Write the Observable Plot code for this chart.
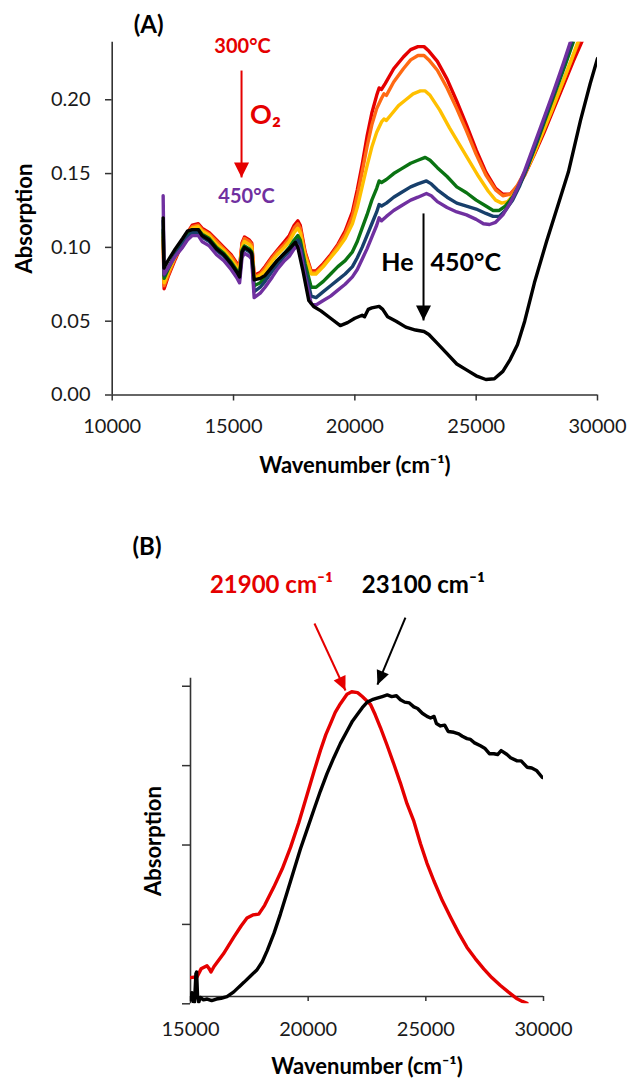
<!DOCTYPE html>
<html><head><meta charset="utf-8">
<script src="https://cdn.jsdelivr.net/npm/d3@7"></script>
<script src="https://cdn.jsdelivr.net/npm/@observablehq/plot@0.6"></script>
<style>
body{margin:0;background:#fff;}
#wrap{position:relative;width:629px;height:1078px;overflow:hidden;background:#fff;}
#wrap > svg{position:absolute;left:0;overflow:visible;}
</style></head><body><div id="wrap"></div>
<script>
// ---------- Panel A data: absorption vs wavenumber (cm-1) ----------
const xTicksA = [10000, 15000, 20000, 25000, 30000];
const yTicksA = [0, 0.05, 0.10, 0.15, 0.20];

const o2_300 = [[12100,0.105],[12140,0.072],[12300,0.080],[12600,0.092],[12900,0.103],[13100,0.110],[13300,0.115],[13550,0.116],[13700,0.113],[14000,0.110],[14300,0.105],[14600,0.100],[14900,0.095],[15150,0.089],[15250,0.087],[15350,0.103],[15450,0.107],[15650,0.105],[15750,0.103],[15850,0.081],[16100,0.083],[16300,0.087],[16600,0.094],[16800,0.098],[17100,0.104],[17300,0.108],[17500,0.115],[17650,0.118],[17750,0.115],[17950,0.097],[18200,0.084],[18400,0.084],[18700,0.089],[19000,0.095],[19300,0.102],[19600,0.111],[19900,0.124],[20100,0.139],[20300,0.156],[20500,0.175],[20700,0.191],[20900,0.203],[21000,0.208],[21100,0.207],[21250,0.211],[21600,0.221],[22000,0.229],[22300,0.234],[22600,0.236],[22850,0.236],[23050,0.233],[23400,0.226],[23800,0.214],[24200,0.199],[24600,0.183],[25000,0.166],[25400,0.151],[25800,0.140],[26100,0.136],[26400,0.136],[26700,0.141],[27000,0.149],[27400,0.163],[27800,0.178],[28200,0.194],[28600,0.210],[29000,0.226],[29400,0.241],[29700,0.252]];
const o2_330 = [[12100,0.107],[12140,0.074],[12300,0.081],[12600,0.093],[12900,0.103],[13100,0.110],[13300,0.114],[13550,0.115],[13700,0.112],[14000,0.109],[14300,0.104],[14600,0.099],[14900,0.094],[15150,0.088],[15250,0.086],[15350,0.102],[15450,0.106],[15650,0.104],[15750,0.102],[15850,0.080],[16100,0.082],[16300,0.086],[16600,0.093],[16800,0.097],[17100,0.102],[17300,0.106],[17500,0.113],[17650,0.116],[17750,0.113],[17950,0.096],[18200,0.083],[18400,0.083],[18700,0.088],[19000,0.094],[19300,0.101],[19600,0.109],[19900,0.121],[20100,0.135],[20300,0.151],[20500,0.168],[20700,0.183],[20900,0.194],[21100,0.201],[21200,0.204],[21300,0.203],[21600,0.212],[22000,0.221],[22300,0.227],[22600,0.230],[22850,0.230],[23050,0.227],[23400,0.220],[23800,0.208],[24200,0.194],[24600,0.179],[25000,0.163],[25400,0.149],[25800,0.139],[26100,0.135],[26400,0.136],[26700,0.142],[27000,0.151],[27400,0.165],[27800,0.181],[28200,0.197],[28600,0.213],[29000,0.230],[29300,0.242],[29600,0.254]];
const o2_360 = [[12100,0.110],[12140,0.076],[12300,0.083],[12600,0.094],[12900,0.103],[13100,0.109],[13300,0.113],[13550,0.114],[13700,0.111],[14000,0.108],[14300,0.102],[14600,0.098],[14900,0.092],[15150,0.086],[15250,0.084],[15350,0.100],[15450,0.104],[15650,0.102],[15750,0.100],[15850,0.079],[16100,0.081],[16300,0.084],[16600,0.091],[16800,0.095],[17100,0.100],[17300,0.104],[17500,0.110],[17650,0.113],[17750,0.110],[17950,0.094],[18200,0.082],[18400,0.082],[18700,0.087],[19000,0.093],[19300,0.099],[19600,0.106],[19900,0.116],[20100,0.127],[20300,0.141],[20500,0.155],[20700,0.168],[20900,0.178],[21100,0.185],[21200,0.187],[21300,0.186],[21500,0.190],[21800,0.196],[22100,0.200],[22400,0.204],[22700,0.206],[22900,0.206],[23100,0.203],[23500,0.193],[23900,0.181],[24300,0.170],[24700,0.159],[25100,0.148],[25500,0.138],[25800,0.132],[26050,0.130],[26300,0.131],[26600,0.137],[26900,0.146],[27300,0.160],[27700,0.176],[28100,0.192],[28500,0.209],[28900,0.226],[29300,0.244],[29500,0.253]];
const o2_390 = [[12100,0.112],[12140,0.079],[12300,0.085],[12600,0.095],[12900,0.103],[13100,0.109],[13300,0.112],[13550,0.112],[13700,0.109],[14000,0.106],[14300,0.100],[14600,0.096],[14900,0.090],[15150,0.084],[15250,0.081],[15350,0.098],[15450,0.101],[15650,0.099],[15750,0.097],[15850,0.074],[16100,0.076],[16300,0.080],[16600,0.087],[16800,0.091],[17100,0.096],[17300,0.100],[17500,0.105],[17650,0.108],[17750,0.105],[17950,0.089],[18200,0.073],[18400,0.073],[18700,0.077],[19000,0.082],[19300,0.087],[19600,0.091],[19900,0.097],[20100,0.104],[20300,0.113],[20500,0.122],[20700,0.132],[20900,0.140],[21000,0.145],[21100,0.144],[21300,0.146],[21600,0.150],[21900,0.153],[22300,0.157],[22600,0.159],[22900,0.161],[23100,0.159],[23400,0.154],[23800,0.148],[24200,0.141],[24600,0.137],[25000,0.132],[25400,0.128],[25700,0.125],[25950,0.125],[26200,0.128],[26500,0.134],[26800,0.143],[27100,0.154],[27500,0.171],[27900,0.189],[28300,0.207],[28700,0.225],[29000,0.239],[29200,0.248]];
const o2_420 = [[12100,0.118],[12140,0.081],[12300,0.086],[12600,0.095],[12900,0.102],[13100,0.107],[13300,0.110],[13550,0.110],[13700,0.107],[14000,0.104],[14300,0.098],[14600,0.094],[14900,0.088],[15150,0.082],[15250,0.079],[15350,0.096],[15450,0.099],[15650,0.097],[15750,0.095],[15850,0.070],[16100,0.073],[16300,0.077],[16600,0.084],[16800,0.088],[17100,0.094],[17300,0.097],[17500,0.102],[17650,0.105],[17750,0.102],[17950,0.085],[18200,0.067],[18400,0.066],[18700,0.070],[19000,0.074],[19300,0.078],[19600,0.082],[19900,0.087],[20100,0.093],[20300,0.100],[20500,0.108],[20700,0.116],[20900,0.124],[21000,0.129],[21100,0.128],[21300,0.130],[21600,0.134],[21900,0.137],[22300,0.141],[22600,0.143],[22950,0.145],[23150,0.143],[23400,0.139],[23800,0.134],[24200,0.130],[24600,0.128],[25000,0.126],[25400,0.123],[25700,0.121],[25950,0.121],[26200,0.125],[26500,0.132],[26800,0.142],[27100,0.154],[27500,0.172],[27900,0.191],[28300,0.209],[28700,0.228],[29000,0.242],[29200,0.251]];
const o2_450 = [[12100,0.135],[12140,0.082],[12300,0.086],[12600,0.094],[12900,0.100],[13100,0.105],[13300,0.108],[13550,0.108],[13700,0.104],[14000,0.101],[14300,0.095],[14600,0.091],[14900,0.085],[15150,0.079],[15250,0.076],[15350,0.093],[15450,0.096],[15650,0.094],[15750,0.092],[15850,0.066],[16100,0.069],[16300,0.073],[16600,0.080],[16800,0.085],[17100,0.091],[17300,0.094],[17500,0.099],[17650,0.101],[17750,0.098],[17950,0.080],[18200,0.062],[18400,0.061],[18700,0.064],[19000,0.067],[19300,0.071],[19600,0.075],[19900,0.080],[20100,0.085],[20300,0.092],[20500,0.099],[20700,0.107],[20900,0.115],[21000,0.120],[21100,0.118],[21300,0.121],[21600,0.125],[21900,0.128],[22300,0.132],[22600,0.134],[22950,0.1365],[23150,0.135],[23400,0.131],[23800,0.127],[24200,0.124],[24600,0.122],[25000,0.119],[25300,0.116],[25550,0.1155],[25800,0.117],[26100,0.122],[26400,0.130],[26700,0.140],[27000,0.152],[27400,0.170],[27800,0.188],[28200,0.206],[28600,0.225],[28900,0.240],[29100,0.249]];
const he_450 = [[12100,0.120],[12130,0.086],[12300,0.091],[12600,0.099],[12900,0.106],[13100,0.111],[13300,0.112],[13550,0.112],[13700,0.108],[14000,0.105],[14300,0.099],[14600,0.095],[14900,0.089],[15150,0.083],[15250,0.080],[15350,0.097],[15450,0.100],[15650,0.098],[15750,0.096],[15850,0.078],[16100,0.079],[16300,0.081],[16600,0.087],[16800,0.091],[17100,0.096],[17300,0.099],[17550,0.1035],[17650,0.100],[17850,0.085],[18100,0.064],[18300,0.060],[18600,0.057],[19000,0.052],[19400,0.047],[19700,0.049],[20000,0.052],[20300,0.054],[20400,0.053],[20550,0.058],[20700,0.059],[21000,0.060],[21150,0.058],[21350,0.053],[21700,0.050],[22100,0.046],[22500,0.044],[22850,0.043],[23050,0.041],[23400,0.035],[23800,0.028],[24200,0.021],[24600,0.017],[25000,0.013],[25400,0.0105],[25750,0.011],[26100,0.016],[26400,0.024],[26700,0.034],[27000,0.050],[27400,0.076],[27900,0.104],[28400,0.130],[28800,0.151],[29300,0.186],[29700,0.211],[30000,0.228]];

const seriesA = [
  {data: o2_300, color: "#e50000"},
  {data: o2_330, color: "#ff6a13"},
  {data: o2_360, color: "#ffc000"},
  {data: o2_390, color: "#0a7312"},
  {data: o2_420, color: "#173f6b"},
  {data: o2_450, color: "#7030a0"},
  {data: he_450, color: "#000000"}
];

const labelsA = [
  {text: "(A)", x: 11500, y: 0.2503, color: "#000", size: 24},
  {text: "300°C", x: 15370, y: 0.2361, color: "#e50000", size: 20},
  {text: "O₂", x: 16318, y: 0.1894, color: "#e50000", size: 27},
  {text: "450°C", x: 15535, y: 0.1345, color: "#7030a0", size: 20}
];
const heLabelA = [
  {text: "He", x: 22417, y: 0.0891, anchor: "end"},
  {text: "450°C", x: 23118, y: 0.0891, anchor: "start"}
];
const arrowsA = [
  {x1: 15330, y1: 0.2198, x2: 15330, y2: 0.1474, color: "#e50000"},
  {x1: 22830, y1: 0.1230, x2: 22830, y2: 0.0505, color: "#000"}
];

// ---------- Panel B data: normalised absorption ----------
const xTicksB = [15000, 20000, 25000, 30000];
const yTicksB = [0, 1, 2, 3, 4];
const diffRed = [[15000,0.33],[15280,0.34],[15450,0.44],[15700,0.48],[15800,0.44],[15870,0.40],[16000,0.47],[16400,0.63],[16840,0.84],[17150,0.98],[17400,1.08],[17650,1.12],[17900,1.13],[18150,1.24],[18540,1.47],[18900,1.70],[19250,1.97],[19600,2.28],[19960,2.64],[20250,2.93],[20520,3.19],[20750,3.39],[20950,3.53],[21150,3.67],[21370,3.78],[21650,3.90],[21850,3.93],[22100,3.92],[22300,3.87],[22650,3.77],[22850,3.64],[23070,3.48],[23350,3.26],[23640,3.02],[23920,2.78],[24200,2.52],[24490,2.30],[24770,2.02],[25050,1.77],[25340,1.55],[25700,1.30],[26050,1.09],[26400,0.89],[26750,0.71],[27100,0.57],[27460,0.44],[27800,0.33],[28170,0.23],[28500,0.15],[28880,0.063],[29100,0.03],[29300,0.005]];
const diffBlack = [[15000,0.05],[15060,0.14],[15110,0.03],[15170,0.02],[15230,0.38],[15260,0.40],[15300,0.10],[15350,0.02],[15420,0.08],[15550,0.05],[15710,0.06],[15900,0.04],[16100,0.06],[16300,0.07],[16550,0.09],[16840,0.15],[17050,0.21],[17270,0.27],[17550,0.35],[17830,0.43],[18050,0.53],[18260,0.67],[18550,0.89],[18820,1.13],[19100,1.40],[19390,1.68],[19670,1.95],[19960,2.20],[20250,2.45],[20520,2.68],[20800,2.90],[21090,3.10],[21370,3.28],[21660,3.44],[21880,3.56],[22080,3.64],[22300,3.73],[22510,3.80],[22720,3.83],[22930,3.85],[23150,3.87],[23360,3.89],[23550,3.87],[23750,3.88],[23920,3.83],[24100,3.80],[24300,3.79],[24490,3.74],[24650,3.72],[24850,3.66],[25050,3.62],[25200,3.60],[25350,3.62],[25450,3.53],[25620,3.50],[25800,3.51],[25950,3.43],[26190,3.42],[26400,3.40],[26550,3.37],[26750,3.34],[26900,3.33],[27050,3.29],[27320,3.25],[27500,3.22],[27700,3.15],[27890,3.15],[28050,3.14],[28200,3.19],[28450,3.14],[28600,3.10],[28880,3.06],[29050,3.06],[29300,2.98],[29500,2.97],[29700,2.94],[29950,2.85]];
const xAxisCrossB = 0.092;

const labelsB = [
  {text: "(B)", x: 13152, y: 5.747, color: "#000"},
  {text: "21900 cm⁻¹", x: 18441, y: 5.268, color: "#e50000"},
  {text: "23100 cm⁻¹", x: 24898, y: 5.268, color: "#000"}
];
const arrowsB = [
  {x1: 20268, y1: 4.79, x2: 21585, y2: 3.946, color: "#e50000"},
  {x1: 24133, y1: 4.865, x2: 22944, y2: 4.02, color: "#000"}
];

// ---------- drawing ----------
const FONT = "Lato, 'Open Sans', sans-serif";
const AXIS = "#333";

function head(angleDeg, len, halfW) {
  const a = angleDeg * Math.PI / 180, c = Math.cos(a), s = Math.sin(a);
  return {draw(ctx) {
    ctx.moveTo(0, 0);
    ctx.lineTo(-len * c + halfW * s, -len * s - halfW * c);
    ctx.lineTo(-len * c - halfW * s, -len * s + halfW * c);
    ctx.closePath();
  }};
}

function arrowMarks(arrows, kx, ky, len, halfW) {
  const marks = [];
  for (const a of arrows) {
    const ang = Math.atan2(-(a.y2 - a.y1) * ky, (a.x2 - a.x1) * kx) * 180 / Math.PI;
    marks.push(Plot.link([a], {x1: "x1", y1: "y1", x2: "x2", y2: "y2", stroke: a.color, strokeWidth: 2}));
    marks.push(Plot.dot([a], {x: "x2", y: "y2", symbol: head(ang, len, halfW), fill: a.color, stroke: "none", r: 5}));
  }
  return marks;
}

// Panel A layout
const LA = {w: 629, h: 500, ml: 111.7, mr: 32, mt: 41.7, mb: 105.5};
const domA = {x: [10000, 30000], y: [0, 0.239]};
const kxA = (LA.w - LA.ml - LA.mr) / (domA.x[1] - domA.x[0]);
const kyA = (LA.h - LA.mt - LA.mb) / (domA.y[1] - domA.y[0]);

const plotA = Plot.plot({
  width: LA.w, height: LA.h,
  marginLeft: LA.ml, marginRight: LA.mr, marginTop: LA.mt, marginBottom: LA.mb,
  style: {fontFamily: FONT, background: "transparent", color: "#1a1a1a", overflow: "visible"},
  x: {domain: domA.x},
  y: {domain: domA.y},
  marks: [
    Plot.axisX(xTicksA, {tickSize: 6, tickPadding: 18, tickFormat: d => String(d), fontSize: 20, stroke: AXIS, strokeWidth: 1.5, label: null}),
    Plot.axisY(yTicksA, {tickSize: 6.7, tickPadding: 15, tickFormat: d => d.toFixed(2), fontSize: 20, stroke: AXIS, strokeWidth: 1.5, label: null}),
    Plot.ruleX([domA.x[0]], {stroke: AXIS, strokeWidth: 1.6}),
    Plot.ruleY([0], {stroke: AXIS, strokeWidth: 1.6}),
    ...seriesA.map(s => Plot.line(s.data, {stroke: s.color, strokeWidth: 3.4, strokeLinejoin: "round", clip: true})),
    ...labelsA.map(l => Plot.text([l], {x: "x", y: "y", text: "text", fill: l.color, fontSize: l.size, fontWeight: "bold"})),
    ...heLabelA.map(l => Plot.text([l], {x: "x", y: "y", text: "text", fill: "#000", fontSize: 25, fontWeight: "bold", textAnchor: l.anchor})),
    ...arrowMarks(arrowsA, kxA, kyA, 15, 7.5),
    Plot.text(["Absorption"], {frameAnchor: "left", dx: -87.7, rotate: -90, textAnchor: "middle", lineAnchor: "middle", fontSize: 22, fontWeight: "bold", fill: "#000"}),
    Plot.text(["Wavenumber (cm⁻¹)"], {frameAnchor: "bottom", dy: 71, textAnchor: "middle", lineAnchor: "middle", fontSize: 22, fontWeight: "bold", fill: "#000"})
  ]
});

// Panel B layout
const LB = {top: 500, w: 629, h: 578, ml: 190, mr: 86, mt: 177.8, mb: 74.7};
const domB = {x: [15000, 30000], y: [0, 4.1]};
const kxB = (LB.w - LB.ml - LB.mr) / (domB.x[1] - domB.x[0]);
const kyB = (LB.h - LB.mt - LB.mb) / (domB.y[1] - domB.y[0]);

const plotB = Plot.plot({
  width: LB.w, height: LB.h,
  marginLeft: LB.ml, marginRight: LB.mr, marginTop: LB.mt, marginBottom: LB.mb,
  style: {fontFamily: FONT, background: "transparent", color: "#1a1a1a", overflow: "visible"},
  x: {domain: domB.x},
  y: {domain: domB.y},
  marks: [
    Plot.axisX(xTicksB, {tickSize: 5, tickPadding: 20, dy: -xAxisCrossB * kyB, tickFormat: d => String(d), fontSize: 20, stroke: AXIS, strokeWidth: 1.5, label: null}),
    Plot.axisY(yTicksB, {tickSize: 8, tickFormat: () => "", stroke: AXIS, strokeWidth: 1.5, label: null}),
    Plot.ruleX([domB.x[0]], {stroke: AXIS, strokeWidth: 1.6}),
    Plot.ruleY([xAxisCrossB], {stroke: AXIS, strokeWidth: 1.6}),
    Plot.line(diffRed, {stroke: "#e50000", strokeWidth: 3.4, strokeLinejoin: "round", clip: true}),
    Plot.line(diffBlack, {stroke: "#000", strokeWidth: 3.4, strokeLinejoin: "round", clip: true}),
    ...labelsB.map(l => Plot.text([l], {x: "x", y: "y", text: "text", fill: l.color, fontSize: 24, fontWeight: "bold"})),
    ...arrowMarks(arrowsB, kxB, kyB, 14, 6.5),
    Plot.text(["Absorption"], {frameAnchor: "left", dx: -37, rotate: -90, textAnchor: "middle", lineAnchor: "middle", fontSize: 22, fontWeight: "bold", fill: "#000"}),
    Plot.text(["Wavenumber (cm⁻¹)"], {frameAnchor: "bottom", dy: 62.7, textAnchor: "middle", lineAnchor: "middle", fontSize: 22, fontWeight: "bold", fill: "#000"})
  ]
});

const wrap = document.getElementById("wrap");
plotA.style.top = "0px";
plotB.style.top = LB.top + "px";
wrap.appendChild(plotA);
wrap.appendChild(plotB);
</script>
</body></html>
